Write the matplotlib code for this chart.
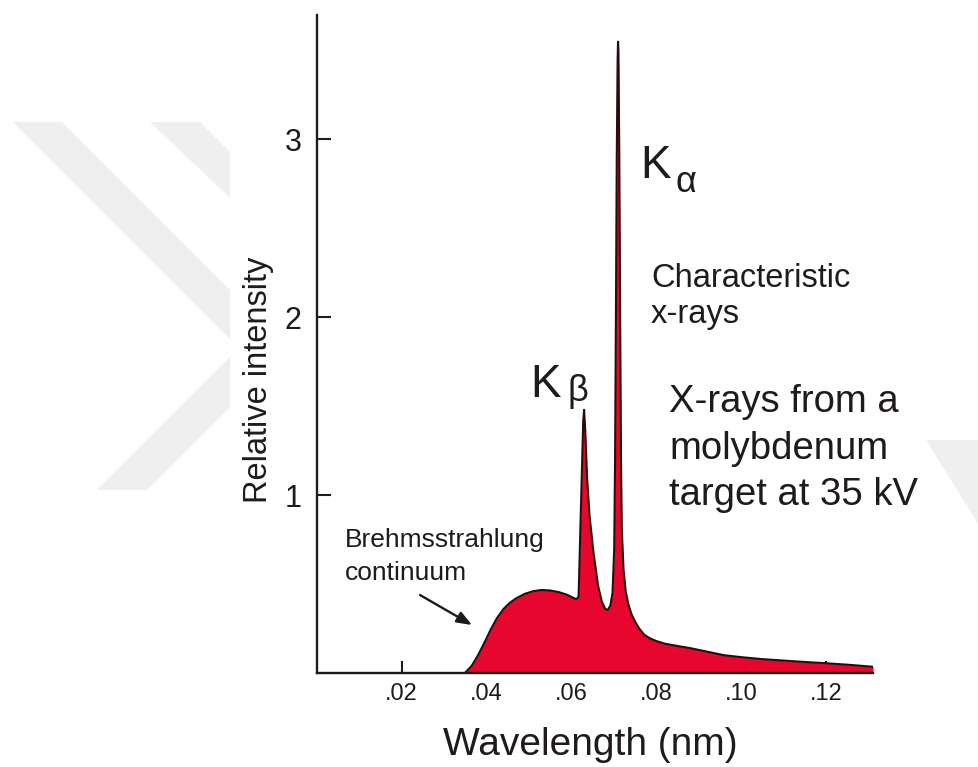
import matplotlib
matplotlib.use("Agg")
import matplotlib.pyplot as plt
from matplotlib.patches import Polygon

# ---------------- data ----------------
wavelength_nm = [0.0349, 0.0365, 0.0380, 0.0395, 0.0410, 0.0425, 0.0440, 0.0455,
                 0.0470, 0.0490, 0.0510, 0.0530, 0.0550, 0.0570, 0.0590, 0.0605,
                 0.0612, 0.0617, 0.0628, 0.0630, 0.0633, 0.0637, 0.0643, 0.0652,
                 0.0663, 0.0672, 0.0680, 0.0686, 0.0692, 0.0697, 0.0701, 0.0703,
                 0.0705, 0.0707, 0.0709, 0.0710, 0.0711, 0.0713, 0.0715, 0.0717,
                 0.0719, 0.0723, 0.0728, 0.0735, 0.0742, 0.0750, 0.0760, 0.0772,
                 0.0785, 0.0800, 0.0820, 0.0850, 0.0880, 0.0920, 0.0960, 0.1005,
                 0.1050, 0.1100, 0.1150, 0.1200, 0.1260, 0.1311]
relative_intensity = [0.0, 0.04, 0.10, 0.17, 0.245, 0.31, 0.36, 0.395,
                      0.42, 0.445, 0.46, 0.467, 0.464, 0.455, 0.44, 0.422,
                      0.415, 0.43, 1.42, 1.48, 1.35, 1.10, 0.88, 0.68,
                      0.49, 0.40, 0.36, 0.355, 0.38, 0.45, 0.70, 1.20,
                      2.0, 2.9, 3.45, 3.55, 3.5, 2.9, 2.0, 1.2,
                      0.80, 0.58, 0.46, 0.38, 0.33, 0.29, 0.25, 0.215,
                      0.195, 0.18, 0.165, 0.152, 0.14, 0.12, 0.10, 0.088,
                      0.078, 0.07, 0.062, 0.055, 0.045, 0.035]

x_ticks = [0.02, 0.04, 0.06, 0.08, 0.10, 0.12]
x_tick_labels = [".02", ".04", ".06", ".08", ".10", ".12"]
y_ticks = [1, 2, 3]
y_tick_labels = ["1", "2", "3"]

# ---------------- figure ----------------
W, H = 979, 767
plt.rcParams['font.family'] = ['Liberation Sans', 'DejaVu Sans']
fig = plt.figure(figsize=(W / 100, H / 100), dpi=100)
fig.patch.set_facecolor('white')

def fx(px):
    return px / W

def fy(py):
    return 1 - py / H

INK = '#1f1b1a'

# faint watermark shapes
wm = '#efefef'
for poly in [
    [(13, 122), (62, 122), (230, 290), (230, 407), (147, 490), (97, 490), (230, 357), (230, 339)],
    [(150, 122), (200, 122), (230, 152), (230, 198)],
    [(926, 440), (979, 440), (979, 525)],
]:
    fig.patches.append(Polygon([(fx(a), fy(b)) for a, b in poly], closed=True,
                               transform=fig.transFigure, facecolor=wm,
                               edgecolor='none', zorder=0))

ax = fig.add_axes([fx(316.8), 1 - 673 / H, 555.8 / W, 658 / H])
ax.set_facecolor('none')
ax.set_xlim(0, 0.131)
ax.set_ylim(0, 3.7)

ax.fill_between(wavelength_nm, relative_intensity, 0, color='#e6062e', linewidth=0, zorder=2)
ax.plot(wavelength_nm, relative_intensity, color='#2a0c0c', linewidth=1.5, zorder=3,
        solid_joinstyle='round', solid_capstyle='round')

for s in ['top', 'right']:
    ax.spines[s].set_visible(False)
for s in ['left', 'bottom']:
    ax.spines[s].set_linewidth(1.7)
    ax.spines[s].set_color(INK)
    ax.spines[s].set_zorder(4)

ax.set_xticks(x_ticks)
ax.set_xticklabels(x_tick_labels)
ax.set_yticks(y_ticks)
ax.set_yticklabels(y_tick_labels)
ax.tick_params(axis='x', direction='in', length=8.5, width=1.5, color=INK,
               labelsize=17, pad=7, labelcolor=INK)
ax.tick_params(axis='y', direction='in', length=10, width=1.5, color=INK,
               labelsize=22, pad=11, labelcolor=INK)
for t in ax.get_xticklines() + ax.get_yticklines():
    t.set_zorder(5)

# axis labels
fig.text(fx(258), fy(380), "Relative intensity", rotation=90, ha='center', va='center',
         fontsize=23.5, color=INK)
fig.text(fx(590), fy(745), "Wavelength (nm)", ha='center', va='center',
         fontsize=28, color=INK)

# peak labels
fig.text(fx(640), fy(178), "K", ha='left', va='baseline', fontsize=33, color=INK)
fig.text(fx(676), fy(192), "α", ha='left', va='baseline', fontsize=26, color=INK)
fig.text(fx(530), fy(397), "K", ha='left', va='baseline', fontsize=33, color=INK)
fig.text(fx(568), fy(401), "β", ha='left', va='baseline', fontsize=26, color=INK)

# annotations
fig.text(fx(651), fy(287), "Characteristic", ha='left', va='baseline', fontsize=23.5, color=INK)
fig.text(fx(651), fy(323), "x-rays", ha='left', va='baseline', fontsize=23.5, color=INK)

fig.text(fx(669), fy(412), "X-rays from a", ha='left', va='baseline', fontsize=27.5, color=INK)
fig.text(fx(669), fy(459), "molybdenum", ha='left', va='baseline', fontsize=27.5, color=INK)
fig.text(fx(669), fy(505), "target at 35 kV", ha='left', va='baseline', fontsize=27.5, color=INK)

fig.text(fx(345), fy(547), "Brehmsstrahlung", ha='left', va='baseline', fontsize=19, color=INK)
fig.text(fx(345), fy(580), "continuum", ha='left', va='baseline', fontsize=19, color=INK)

ax.annotate("", xy=(fx(472), fy(625)), xytext=(fx(420), fy(595)),
            xycoords='figure fraction', textcoords='figure fraction',
            arrowprops=dict(arrowstyle='-|>,head_length=0.9,head_width=0.35',
                            color=INK, lw=1.7, shrinkA=0, shrinkB=0), zorder=6)

fig.savefig("out.png", dpi=100, facecolor='white')
